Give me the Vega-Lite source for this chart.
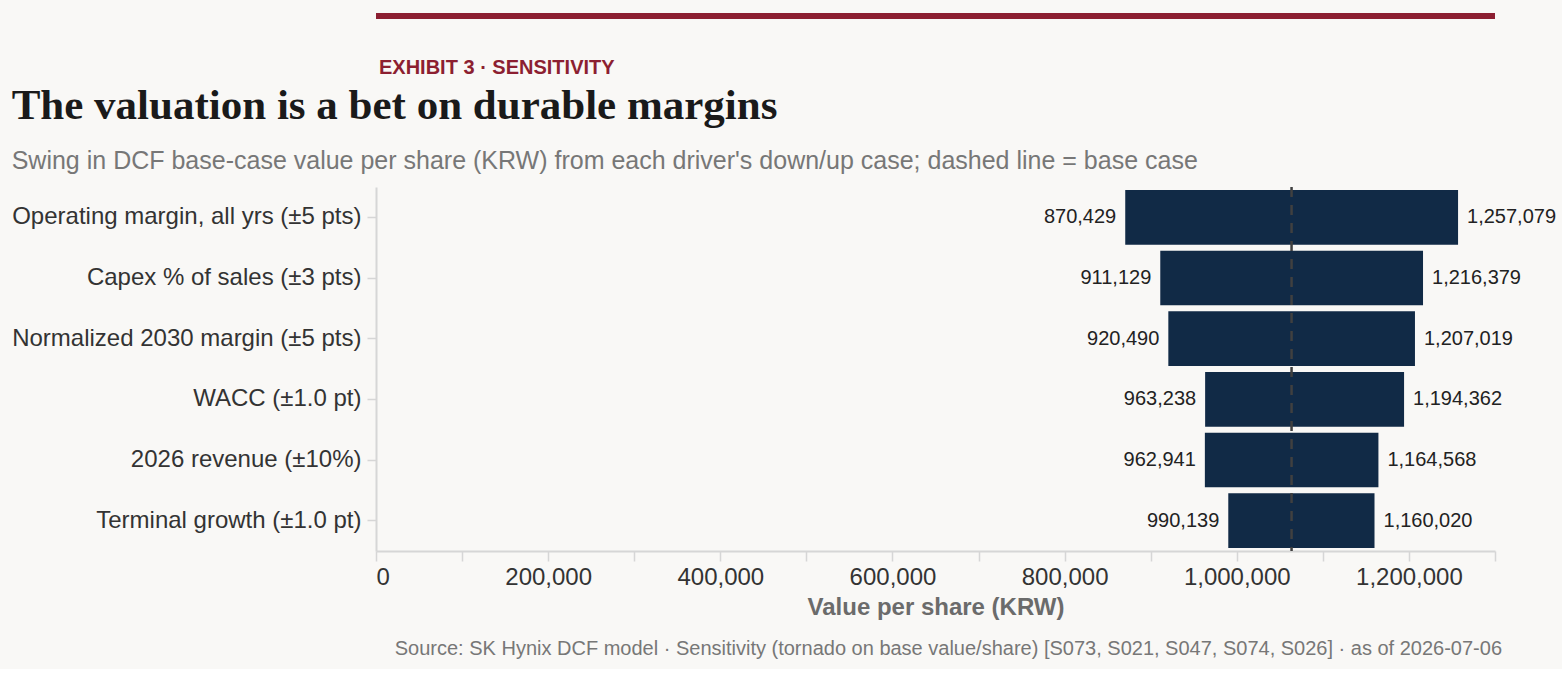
{
  "$schema": "https://vega.github.io/schema/vega-lite/v6.json",
  "background": "#f9f8f6",
  "padding": {"left": 11, "top": 13, "right": 5, "bottom": 10},
  "autosize": {"type": "pad"},
  "bounds": "flush",
  "spacing": 168,
  "title": {
    "text": "Source: SK Hynix DCF model · Sensitivity (tornado on base value/share) [S073, S021, S047, S074, S026] · as of 2026-07-06",
    "orient": "bottom",
    "anchor": "end",
    "font": "Liberation Sans",
    "fontSize": 20,
    "fontWeight": "normal",
    "color": "#777777",
    "dx": -54,
    "offset": 20
  },
  "config": {
    "view": {"stroke": null},
    "font": "Liberation Sans"
  },
  "vconcat": [
    {
      "width": 1119,
      "height": 6,
      "view": {"fill": "#8c1f31", "stroke": null},
      "data": {"values": []},
      "mark": "point",
      "title": {
        "text": "EXHIBIT 3 · SENSITIVITY",
        "orient": "bottom",
        "anchor": "start",
        "frame": "group",
        "font": "Liberation Sans",
        "fontSize": 20,
        "fontWeight": "bold",
        "color": "#8c1f31",
        "baseline": "alphabetic",
        "offset": 55,
        "dx": 3
      }
    },
    {
      "width": 1119,
      "height": 364,
      "title": {
        "text": "The valuation is a bet on durable margins",
        "subtitle": "Swing in DCF base-case value per share (KRW) from each driver's down/up case; dashed line = base case",
        "anchor": "start",
        "frame": "bounds",
        "font": "Liberation Serif",
        "fontSize": 43,
        "fontWeight": "bold",
        "color": "#1a1a1a",
        "subtitleFont": "Liberation Sans",
        "subtitleFontSize": 25,
        "subtitleColor": "#777777",
        "subtitlePadding": 21,
        "offset": 12
      },
      "data": {
        "values": [
          {"driver": "Operating margin, all yrs (±5 pts)", "low": 870429, "high": 1257079},
          {"driver": "Capex % of sales (±3 pts)", "low": 911129, "high": 1216379},
          {"driver": "Normalized 2030 margin (±5 pts)", "low": 920490, "high": 1207019},
          {"driver": "WACC (±1.0 pt)", "low": 963238, "high": 1194362},
          {"driver": "2026 revenue (±10%)", "low": 962941, "high": 1164568},
          {"driver": "Terminal growth (±1.0 pt)", "low": 990139, "high": 1160020}
        ]
      },
      "encoding": {
        "y": {
          "field": "driver",
          "type": "nominal",
          "sort": null,
          "axis": {
            "title": null,
            "labelFontSize": 24,
            "labelColor": "#333333",
            "labelLimit": 0,
            "tickSize": 9,
            "labelPadding": 6,
            "domainColor": "#d6d6d6",
            "domainWidth": 2,
            "tickColor": "#d6d6d6",
            "tickWidth": 1.5
          }
        }
      },
      "layer": [
        {
          "mark": {"type": "bar", "color": "#112a46"},
          "encoding": {
            "x": {
              "field": "low",
              "type": "quantitative",
              "scale": {"domain": [0, 1300000], "nice": false},
              "axis": {
                "title": "Value per share (KRW)",
                "values": [0, 100000, 200000, 300000, 400000, 500000, 600000, 700000, 800000, 900000, 1000000, 1100000, 1200000, 1300000],
                "labelExpr": "datum.value % 200000 === 0 ? format(datum.value, ',') : ''",
                "labelFlush": true,
                "labelFontSize": 24,
                "labelColor": "#333333",
                "tickSize": 10,
                "tickWidth": 1.5,
                "tickColor": "#d6d6d6",
                "domainColor": "#d6d6d6",
                "domainWidth": 2,
                "labelPadding": 4,
                "grid": false,
                "titleFontSize": 24,
                "titleFontWeight": "bold",
                "titleColor": "#6b6b6b",
                "titlePadding": 6
              }
            },
            "x2": {"field": "high"}
          }
        },
        {
          "mark": {"type": "text", "align": "right", "baseline": "middle", "dx": -9, "fontSize": 20, "color": "#222222"},
          "encoding": {
            "x": {"field": "low", "type": "quantitative"},
            "text": {"field": "low", "type": "quantitative", "format": ","}
          }
        },
        {
          "mark": {"type": "text", "align": "left", "baseline": "middle", "dx": 9, "fontSize": 20, "color": "#222222"},
          "encoding": {
            "x": {"field": "high", "type": "quantitative"},
            "text": {"field": "high", "type": "quantitative", "format": ","}
          }
        },
        {
          "data": {"values": [{"base": 1063650}]},
          "mark": {"type": "rule", "color": "#404040", "strokeWidth": 2.5, "strokeDash": [10, 8]},
          "encoding": {
            "x": {"field": "base", "type": "quantitative"},
            "y": null
          }
        }
      ]
    }
  ]
}
